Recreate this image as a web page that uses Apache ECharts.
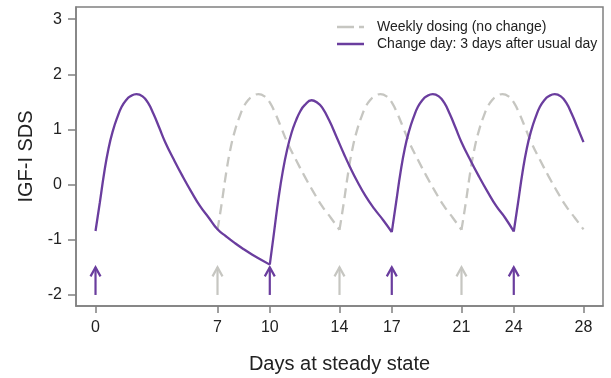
<!DOCTYPE html>
<html>
<head>
<meta charset="utf-8">
<script src="https://cdn.jsdelivr.net/npm/echarts@6/dist/echarts.min.js"></script>
<style>html,body{margin:0;padding:0;background:#fff}#c{width:611px;height:378px}</style>
</head>
<body>
<div id="c"></div>
<script>
// Days and IGF-I SDS values
const xTicks = [0, 7, 10, 14, 17, 21, 24, 28];
const yTicks = [-2, -1, 0, 1, 2, 3];

const weeklyName = 'Weekly dosing (no change)';
const changeName = 'Change day: 3 days after usual day';

const weeklyDays = [7,7.25,7.5,7.75,8,8.25,8.5,8.75,9,9.35,9.7,10,10.33,10.66,11,11.5,12,12.5,13,13.5,
  14,14.25,14.5,14.75,15,15.25,15.5,15.75,16,16.35,16.7,17,17.33,17.66,18,18.5,19,19.5,20,20.5,
  21,21.25,21.5,21.75,22,22.25,22.5,22.75,23,23.35,23.7,24,24.33,24.66,25,25.5,26,26.5,27,27.5,28];
const weeklySDS = [-0.82,-0.32,0.22,0.66,0.98,1.22,1.41,1.53,1.6,1.64,1.6,1.49,1.28,1.03,0.77,0.45,0.15,-0.13,-0.39,-0.6,
  -0.82,-0.32,0.22,0.66,0.98,1.22,1.41,1.53,1.6,1.64,1.6,1.49,1.28,1.03,0.77,0.45,0.15,-0.13,-0.39,-0.6,
  -0.82,-0.32,0.22,0.66,0.98,1.22,1.41,1.53,1.6,1.64,1.6,1.49,1.28,1.03,0.77,0.45,0.15,-0.13,-0.39,-0.6,-0.81];

const changeDays = [0,0.25,0.5,0.75,1,1.25,1.5,1.75,2,2.35,2.7,3,3.33,3.66,4,4.5,5,5.5,6,6.5,7,7.5,8,8.5,9,9.5,
  10,10.25,10.5,10.75,11,11.25,11.5,11.75,12,12.4,12.75,13,13.4,13.85,14.25,14.6,15,15.5,16,16.5,
  17,17.25,17.5,17.75,18,18.25,18.5,18.75,19,19.35,19.7,20,20.33,20.66,21,21.5,22,22.5,23,23.5,
  24,24.25,24.5,24.75,25,25.25,25.5,25.75,26,26.35,26.7,27,27.33,27.66,28];
const changeSDS = [-0.84,-0.32,0.22,0.66,0.98,1.22,1.41,1.53,1.6,1.64,1.6,1.49,1.28,1.03,0.77,0.45,0.15,-0.13,-0.39,-0.6,-0.81,-0.94,-1.06,-1.17,-1.27,-1.36,
  -1.45,-0.85,-0.25,0.25,0.64,0.94,1.16,1.33,1.44,1.53,1.48,1.4,1.17,0.85,0.56,0.32,0.07,-0.21,-0.44,-0.64,
  -0.86,-0.32,0.22,0.66,0.98,1.22,1.41,1.53,1.6,1.64,1.6,1.49,1.28,1.03,0.77,0.45,0.15,-0.13,-0.39,-0.6,
  -0.85,-0.32,0.22,0.66,0.98,1.22,1.41,1.53,1.6,1.64,1.6,1.49,1.28,1.03,0.77];

const weeklyDoseDays = [7, 14, 21];
const changeDoseDays = [0, 10, 17, 24];
const arrowBase = -2;
const arrowTip = -1.5;

const PURPLE = '#6a3d9e';
const GREY = '#c6c6c1';
const AXIS = '#808080';
const FONT = 'Liberation Sans, Arial, sans-serif';

function zip(a, b) { return a.map((v, i) => [v, b[i]]); }

// split one curve into pieces at dose days so the dose corners stay sharp
function splitAt(points, doses) {
  const pieces = [];
  let cur = [];
  points.forEach((p, i) => {
    cur.push(p);
    if (i > 0 && i < points.length - 1 && doses.indexOf(p[0]) >= 0) {
      pieces.push(cur);
      cur = [p];
    }
  });
  pieces.push(cur);
  return pieces;
}

function arrowRenderer(color) {
  return function (params, api) {
    const d = api.value(0);
    const p0 = api.coord([d, arrowBase]);
    const p1 = api.coord([d, arrowTip]);
    const style = { stroke: color, lineWidth: 2.2, fill: null };
    return {
      type: 'group',
      children: [
        { type: 'polyline', shape: { points: [[p0[0], p0[1]], [p1[0], p1[1]]] }, style: style },
        { type: 'polyline', shape: { points: [[p1[0] - 5, p1[1] + 9], [p1[0], p1[1]], [p1[0] + 5, p1[1] + 9]] }, style: style }
      ]
    };
  };
}

const weeklyPieces = splitAt(zip(weeklyDays, weeklySDS), weeklyDoseDays);
const changePieces = splitAt(zip(changeDays, changeSDS), changeDoseDays);

const series = [];
weeklyPieces.forEach(pts => series.push({
  name: weeklyName, type: 'line', data: pts, symbol: 'none', smooth: 0.5, color: GREY,
  lineStyle: { color: GREY, width: 2.3, type: [10, 6] }, z: 2
}));
changePieces.forEach(pts => series.push({
  name: changeName, type: 'line', data: pts, symbol: 'none', smooth: 0.5, color: PURPLE,
  lineStyle: { color: PURPLE, width: 2.3 }, z: 3
}));
series.push({
  name: 'weeklyArrows', type: 'custom', data: weeklyDoseDays.map(d => [d]),
  renderItem: arrowRenderer(GREY), silent: true, z: 4
});
series.push({
  name: 'changeArrows', type: 'custom', data: changeDoseDays.map(d => [d]),
  renderItem: arrowRenderer(PURPLE), silent: true, z: 4
});

const chart = echarts.init(document.getElementById('c'), null, { renderer: 'canvas' });
chart.setOption({
  animation: false,
  backgroundColor: '#fff',
  textStyle: { fontFamily: FONT },
  grid: { left: 76, right: 8, top: 7, bottom: 72, outerBoundsMode: 'none', containLabel: false, show: true, borderColor: AXIS, borderWidth: 1.5, backgroundColor: 'transparent' },
  legend: {
    orient: 'vertical', left: 337, top: 20, padding: 0, itemWidth: 27, itemHeight: 2.5, itemGap: 3,
    textStyle: { fontSize: 14, color: '#222', fontFamily: FONT, padding: [0, 0, 0, 8] },
    data: [
      { name: weeklyName, icon: 'path://M0,0h17v2.5h-17z M22,0h5v2.5h-5z', itemStyle: { color: GREY } },
      { name: changeName, icon: 'rect', itemStyle: { color: PURPLE } }
    ]
  },
  xAxis: {
    type: 'value', min: -1.12, max: 29.12,
    name: 'Days at steady state', nameLocation: 'middle', nameGap: 48,
    nameTextStyle: { fontSize: 20, color: '#222', fontFamily: FONT },
    splitLine: { show: false },
    axisLine: { show: true, onZero: false, lineStyle: { color: AXIS, width: 1.5 } },
    axisTick: { show: true, length: 7, lineStyle: { color: AXIS, width: 1.5 }, customValues: xTicks },
    axisLabel: { fontSize: 16, color: '#222', margin: 14, customValues: xTicks, fontFamily: FONT }
  },
  yAxis: {
    type: 'value', min: -2.2, max: 3.22,
    name: 'IGF-I SDS', nameLocation: 'middle', nameGap: 39, nameRotate: 90,
    nameTextStyle: { fontSize: 20, color: '#222', fontFamily: FONT },
    splitLine: { show: false },
    axisLine: { show: true, onZero: false, lineStyle: { color: AXIS, width: 1.5 } },
    axisTick: { show: true, length: 8, lineStyle: { color: AXIS, width: 1.5 }, customValues: yTicks },
    axisLabel: { fontSize: 16, color: '#222', margin: 14, customValues: yTicks, fontFamily: FONT }
  },
  series: series
});
</script>
</body>
</html>
